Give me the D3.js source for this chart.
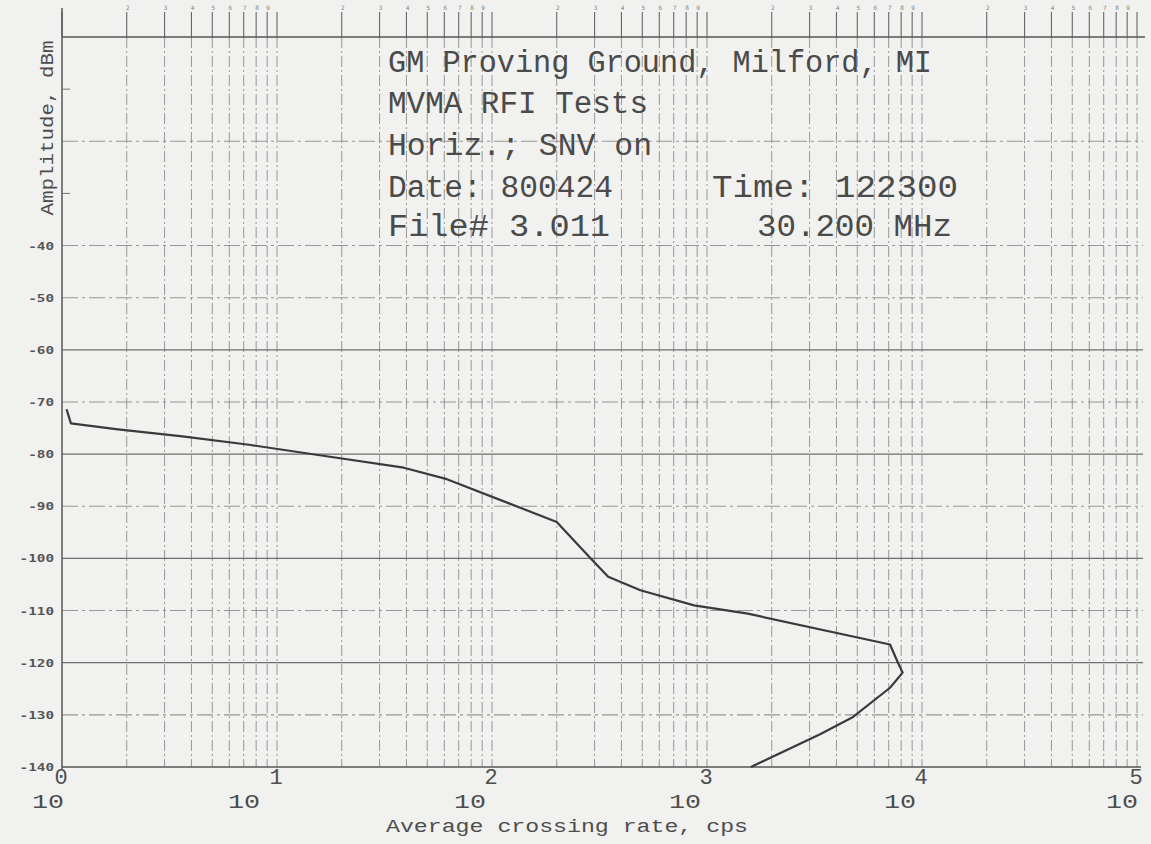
<!DOCTYPE html>
<html>
<head>
<meta charset="utf-8">
<script src="https://cdn.jsdelivr.net/npm/d3@7"></script>
<style>
  html, body { margin: 0; padding: 0; background: #f1f1ef; }
  svg { display: block; }
</style>
</head>
<body>
<svg id="chart" width="1151" height="844"></svg>
<script>
// ---- data ----
const crossingRate = [1.05, 1.10, 1.78, 3.63, 7.41, 17.0, 38.9, 61.7, 200, 288, 347, 490, 871, 1549, 7100, 7730, 8130, 7100, 4780, 3357, 1600];
const amplitude    = [-71.4, -74.1, -75.2, -76.6, -78.2, -80.4, -82.6, -84.8, -93.0, -100, -103.5, -106.1, -109.0, -110.6, -116.5, -120.0, -121.9, -124.8, -130.4, -133.7, -140];
const yTickValues = [-40, -50, -60, -70, -80, -90, -100, -110, -120, -130, -140];
const yGridSolid = [-60, -80, -100, -120];
const yGridDashed = [-20, -40, -50, -70, -90, -110, -130];
const yMinorTicks = [-10, -30];
const xDecades = [0, 1, 2, 3, 4, 5];
const xMinorMultipliers = [2, 3, 4, 5, 6, 7, 8, 9];
const titleLines = [
  {text: "GM Proving Ground, Milford, MI", col: 0, row: 0},
  {text: "MVMA RFI Tests", col: 0, row: 1},
  {text: "Horiz.; SNV on", col: 0, row: 2},
  {text: "Date: 800424", col: 0, row: 3},
  {text: "Time: 122300", col: 1, row: 3},
  {text: "File# 3.011", col: 0, row: 4},
  {text: "30.200 MHz", col: 2, row: 4}
];
const xTitle = "Average crossing rate, cps";
const yTitle = "Amplitude, dBm";

// ---- layout ----
const svg = d3.select("#chart");
const pLeft = 62, pRight = 1137, pTop = 37, pBottom = 767;
const x = d3.scaleLog().domain([1, 1e5]).range([pLeft, pRight]);
const y = d3.scaleLinear().domain([-140, 0]).range([pBottom, pTop]);
const ink = "#3a3a3a", gridCol = "#888", textCol = "#4d4d4d";
const mono = "'DejaVu Sans Mono', 'Liberation Mono', monospace";
const plot = "'Liberation Mono', 'DejaVu Sans Mono', monospace";

// vertical grid
const vValues = [];
xDecades.forEach(d => {
  vValues.push({v: Math.pow(10, d), m: 1});
  if (d < 5) xMinorMultipliers.forEach(m => vValues.push({v: m * Math.pow(10, d), m}));
});
const g = svg.append("g");
g.selectAll("line.vgrid").data(vValues.filter(d => d.v > 1)).join("line")
  .attr("x1", d => x(d.v)).attr("x2", d => x(d.v))
  .attr("y1", pTop).attr("y2", pBottom)
  .attr("stroke", gridCol).attr("stroke-width", 1)
  .attr("stroke-dasharray", "11,3,2,3").attr("opacity", 0.85);
// top ticks
g.selectAll("line.ttick").data(vValues).join("line")
  .attr("x1", d => x(d.v)).attr("x2", d => x(d.v))
  .attr("y1", 12).attr("y2", pTop)
  .attr("stroke", "#666").attr("stroke-width", 1.1);
g.selectAll("text.tlab").data(vValues.filter(d => d.m > 1)).join("text")
  .attr("x", d => x(d.v) + 1).attr("y", 10)
  .attr("font-family", mono).attr("font-size", 6).attr("fill", "#808080")
  .attr("text-anchor", "middle").text(d => d.m);

// horizontal grid
g.selectAll("line.hsolid").data(yGridSolid).join("line")
  .attr("x1", pLeft).attr("x2", 1143).attr("y1", d => y(d)).attr("y2", d => y(d))
  .attr("stroke", "#6e6e6e").attr("stroke-width", 1.2);
g.selectAll("line.hdash").data(yGridDashed).join("line")
  .attr("x1", pLeft).attr("x2", 1143).attr("y1", d => y(d)).attr("y2", d => y(d))
  .attr("stroke", gridCol).attr("stroke-width", 1.1)
  .attr("stroke-dasharray", "16,4,3,4").attr("opacity", 0.85);
g.selectAll("line.hminor").data(yMinorTicks).join("line")
  .attr("x1", pLeft).attr("x2", pLeft + 8).attr("y1", d => y(d)).attr("y2", d => y(d))
  .attr("stroke", "#777").attr("stroke-width", 1);

// frame lines
svg.append("line").attr("x1", pLeft).attr("x2", 1145).attr("y1", pTop).attr("y2", pTop)
  .attr("stroke", "#555").attr("stroke-width", 1.5);
svg.append("line").attr("x1", pLeft).attr("x2", 1141).attr("y1", pBottom).attr("y2", pBottom)
  .attr("stroke", "#555").attr("stroke-width", 1.5);
svg.append("line").attr("x1", pLeft).attr("x2", pLeft).attr("y1", 8).attr("y2", pBottom + 2)
  .attr("stroke", "#555").attr("stroke-width", 1.5);

// y tick labels
svg.selectAll("text.ylab").data(yTickValues).join("text")
  .attr("x", 54).attr("y", d => y(d) + 4)
  .attr("text-anchor", "end").attr("font-family", mono).attr("font-weight", "bold")
  .attr("font-size", 11).attr("fill", "#555")
  .attr("textLength", d => String(d).length * 8.6).attr("lengthAdjust", "spacingAndGlyphs")
  .text(d => d);

// y title
svg.append("text").attr("transform", "translate(53,128) rotate(-90)")
  .attr("text-anchor", "middle").attr("font-family", plot).attr("font-size", 18)
  .attr("fill", textCol).attr("textLength", 175).attr("lengthAdjust", "spacingAndGlyphs")
  .text(yTitle);

// x labels: exponent and base
const baseOffset = [-14, -33, -22, -22, -22, -15];
svg.selectAll("text.xexp").data(xDecades).join("text")
  .attr("x", d => x(Math.pow(10, d)) - 1).attr("y", 784)
  .attr("text-anchor", "middle").attr("font-family", plot).attr("font-size", 22)
  .attr("fill", textCol).text(d => d);
svg.selectAll("text.xbase").data(xDecades).join("text")
  .attr("x", d => x(Math.pow(10, d)) + baseOffset[d]).attr("y", 808)
  .attr("text-anchor", "middle").attr("font-family", plot).attr("font-size", 21)
  .attr("fill", textCol).attr("textLength", 32).attr("lengthAdjust", "spacingAndGlyphs")
  .text("10");
svg.append("text").attr("x", 386).attr("y", 832)
  .attr("font-family", plot).attr("font-size", 18).attr("fill", textCol)
  .attr("textLength", 362).attr("lengthAdjust", "spacingAndGlyphs").text(xTitle);

// title block
const colX = [388, 712, 757];
const rowY = [72, 113, 155, 197, 236];
const lens = {"GM Proving Ground, Milford, MI": 544, "MVMA RFI Tests": 260, "Horiz.; SNV on": 264,
  "Date: 800424": 225, "Time: 122300": 246, "File# 3.011": 222, "30.200 MHz": 195};
svg.selectAll("text.title").data(titleLines).join("text")
  .attr("x", d => colX[d.col]).attr("y", d => rowY[d.row])
  .attr("font-family", plot).attr("font-size", 31).attr("fill", "#4a4a4a")
  .attr("textLength", d => lens[d.text]).attr("lengthAdjust", "spacingAndGlyphs")
  .text(d => d.text);

// curve
const pts = crossingRate.map((c, i) => [c, amplitude[i]]);
svg.append("path").datum(pts)
  .attr("d", d3.line().x(d => x(d[0])).y(d => y(d[1])))
  .attr("fill", "none").attr("stroke", ink).attr("stroke-width", 2.2)
  .attr("stroke-linejoin", "round");
</script>
</body>
</html>
